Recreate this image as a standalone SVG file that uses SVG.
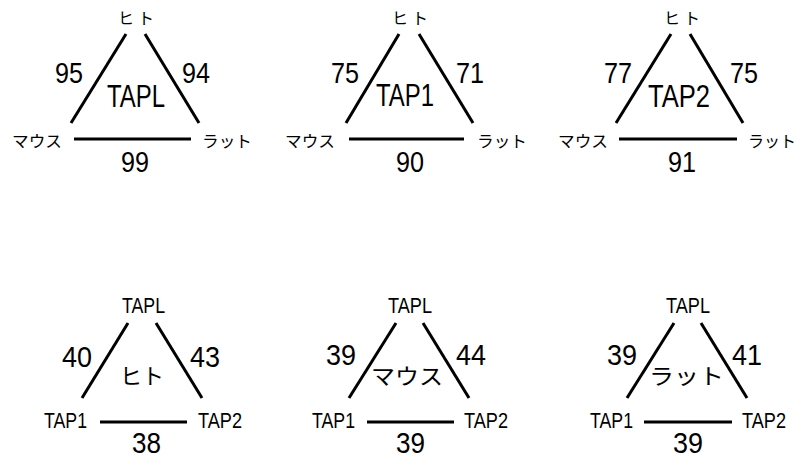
<svg xmlns="http://www.w3.org/2000/svg" width="797" height="460" viewBox="0 0 797 460">
<style>
.ln{stroke:#000;stroke-width:3;fill:none}
.jp{font-family:"Noto Sans CJK JP","Noto Sans CJK SC",sans-serif;fill:#000}
.num{font-family:"Liberation Sans",Arial,sans-serif;font-size:29px;fill:#000}
.numb{font-family:"Liberation Sans",Arial,sans-serif;font-size:30px;fill:#000}
.big{font-family:"Liberation Sans",Arial,sans-serif;font-size:32px;fill:#000}
.lbl{font-family:"Liberation Sans",Arial,sans-serif;font-size:22px;fill:#000}
.s16{font-size:16px}
.s22{font-size:22px}
</style>
<rect width="797" height="460" fill="#fff"/>
<g id="connectors">
<line class="ln" x1="126" y1="34" x2="71" y2="123"/>
<line class="ln" x1="145" y1="34" x2="199" y2="123"/>
<line class="ln" x1="74" y1="139" x2="191" y2="139"/>
<line class="ln" x1="399" y1="34" x2="346" y2="123"/>
<line class="ln" x1="419" y1="34" x2="473" y2="123"/>
<line class="ln" x1="349" y1="139" x2="464" y2="139"/>
<line class="ln" x1="671" y1="34" x2="616" y2="123"/>
<line class="ln" x1="690" y1="34" x2="743" y2="123"/>
<line class="ln" x1="619" y1="139" x2="737" y2="139"/>
<line class="ln" x1="128" y1="323" x2="82" y2="398"/>
<line class="ln" x1="156" y1="323" x2="202" y2="398"/>
<line class="ln" x1="100" y1="422" x2="187" y2="422"/>
<line class="ln" x1="396" y1="323" x2="349" y2="398"/>
<line class="ln" x1="423" y1="323" x2="469" y2="398"/>
<line class="ln" x1="367" y1="422" x2="454" y2="422"/>
<line class="ln" x1="674" y1="323" x2="627" y2="398"/>
<line class="ln" x1="701" y1="323" x2="747" y2="398"/>
<line class="ln" x1="644" y1="422" x2="732" y2="422"/>
</g>
<g id="panel-tapl">
<text class="jp s16" x="118" y="24" textLength="36" lengthAdjust="spacing">ヒト</text>
<text class="num" x="55" y="83" textLength="28" lengthAdjust="spacingAndGlyphs">95</text>
<text class="num" x="182" y="83" textLength="28" lengthAdjust="spacingAndGlyphs">94</text>
<text class="big" x="107" y="107" textLength="58" lengthAdjust="spacingAndGlyphs">TAPL</text>
<text class="jp s16" x="12" y="147" textLength="50" lengthAdjust="spacingAndGlyphs">マウス</text>
<text class="jp s16" x="202" y="147" textLength="50" lengthAdjust="spacingAndGlyphs">ラット</text>
<text class="num" x="121" y="172" textLength="28" lengthAdjust="spacingAndGlyphs">99</text>
</g>
<g id="panel-tap1">
<text class="jp s16" x="392" y="24" textLength="36" lengthAdjust="spacing">ヒト</text>
<text class="num" x="331" y="83" textLength="28" lengthAdjust="spacingAndGlyphs">75</text>
<text class="num" x="456" y="83" textLength="28" lengthAdjust="spacingAndGlyphs">71</text>
<text class="big" x="376" y="106" textLength="58" lengthAdjust="spacingAndGlyphs">TAP1</text>
<text class="jp s16" x="285" y="147" textLength="50" lengthAdjust="spacingAndGlyphs">マウス</text>
<text class="jp s16" x="477" y="147" textLength="50" lengthAdjust="spacingAndGlyphs">ラット</text>
<text class="num" x="396" y="172" textLength="28" lengthAdjust="spacingAndGlyphs">90</text>
</g>
<g id="panel-tap2">
<text class="jp s16" x="664" y="24" textLength="36" lengthAdjust="spacing">ヒト</text>
<text class="num" x="604" y="83" textLength="28" lengthAdjust="spacingAndGlyphs">77</text>
<text class="num" x="730" y="83" textLength="28" lengthAdjust="spacingAndGlyphs">75</text>
<text class="big" x="648" y="107" textLength="62" lengthAdjust="spacingAndGlyphs">TAP2</text>
<text class="jp s16" x="558" y="147" textLength="50" lengthAdjust="spacingAndGlyphs">マウス</text>
<text class="jp s16" x="748" y="147" textLength="48" lengthAdjust="spacingAndGlyphs">ラット</text>
<text class="num" x="668" y="172" textLength="28" lengthAdjust="spacingAndGlyphs">91</text>
</g>
<g id="panel-human">
<text class="lbl" x="122" y="313" textLength="43" lengthAdjust="spacingAndGlyphs">TAPL</text>
<text class="numb" x="62" y="367" textLength="30" lengthAdjust="spacingAndGlyphs">40</text>
<text class="numb" x="190" y="367" textLength="30" lengthAdjust="spacingAndGlyphs">43</text>
<text class="jp s22" x="120" y="384" textLength="44" lengthAdjust="spacing">ヒト</text>
<text class="lbl" x="44" y="428" textLength="43" lengthAdjust="spacingAndGlyphs">TAP1</text>
<text class="lbl" x="198" y="428" textLength="44" lengthAdjust="spacingAndGlyphs">TAP2</text>
<text class="numb" x="132" y="453" textLength="29" lengthAdjust="spacingAndGlyphs">38</text>
</g>
<g id="panel-mouse">
<text class="lbl" x="388" y="313" textLength="44" lengthAdjust="spacingAndGlyphs">TAPL</text>
<text class="numb" x="326" y="365" textLength="30" lengthAdjust="spacingAndGlyphs">39</text>
<text class="numb" x="456" y="365" textLength="30" lengthAdjust="spacingAndGlyphs">44</text>
<text class="jp s22" x="371" y="384" textLength="72" lengthAdjust="spacingAndGlyphs">マウス</text>
<text class="lbl" x="312" y="428" textLength="43" lengthAdjust="spacingAndGlyphs">TAP1</text>
<text class="lbl" x="464" y="428" textLength="44" lengthAdjust="spacingAndGlyphs">TAP2</text>
<text class="numb" x="396" y="453" textLength="29" lengthAdjust="spacingAndGlyphs">39</text>
</g>
<g id="panel-rat">
<text class="lbl" x="666" y="313" textLength="44" lengthAdjust="spacingAndGlyphs">TAPL</text>
<text class="numb" x="607" y="365" textLength="30" lengthAdjust="spacingAndGlyphs">39</text>
<text class="numb" x="732" y="365" textLength="30" lengthAdjust="spacingAndGlyphs">41</text>
<text class="jp s22" x="649" y="384" textLength="75" lengthAdjust="spacingAndGlyphs">ラット</text>
<text class="lbl" x="590" y="428" textLength="43" lengthAdjust="spacingAndGlyphs">TAP1</text>
<text class="lbl" x="742" y="428" textLength="44" lengthAdjust="spacingAndGlyphs">TAP2</text>
<text class="numb" x="673" y="453" textLength="30" lengthAdjust="spacingAndGlyphs">39</text>
</g>
</svg>
